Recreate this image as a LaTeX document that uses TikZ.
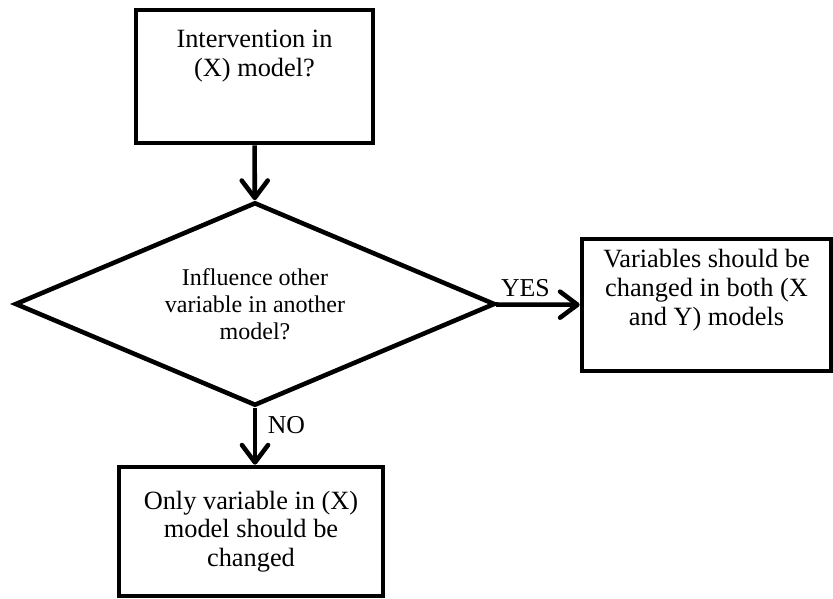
\documentclass[tikz,border=0pt]{standalone}
\usepackage{fontspec}
\setmainfont{Liberation Serif}
\usetikzlibrary{arrows.meta, shapes.geometric}

\begin{document}
\begin{tikzpicture}[x=0.03cm, y=-0.03cm,
    >={Straight Barb[round, length=0.52cm, width=0.78cm]},
    box/.style={draw, line width=3.9pt, align=center, inner sep=0pt,
        font=\fontsize{22.5}{24.5}\selectfont},
    decision/.style={draw, diamond, aspect=2.4, line width=3.9pt, align=center, inner sep=0pt,
        font=\fontsize{20.5}{23}\selectfont},
    flow/.style={->, line width=3.9pt},
    lbl/.style={font=\fontsize{22}{24}\selectfont, inner sep=2pt}]
    \useasboundingbox (0,0) rectangle (833,599);

    % 1. Khoi cau hoi ban dau
    \node[box, minimum width=7.11cm, minimum height=3.99cm] (intervention) at (254.5,76.5)
        {Intervention in\\(X) model?\\[8pt]\strut};

    % 2. Khoi quyet dinh
    \node[decision, minimum width=14.4cm, minimum height=6.1cm] (influence) at (255,304)
        {Influence other\\variable in another\\model?};

    % 3. Hai khoi ket qua
    \node[box, minimum width=7.47cm, minimum height=3.96cm] (both) at (706.5,305)
        {Variables should be\\changed in both (X\\and Y) models\\[-2pt]\strut};
    \node[box, minimum width=7.92cm, minimum height=3.87cm] (only) at (251,531.5)
        {Only variable in (X)\\model should be\\changed};

    % 4. Mui ten noi cac khoi
    \draw[flow] (intervention) -- (influence);
    \draw[flow] (influence) -- node[lbl, above=3pt, pos=0.35] {YES} (both);
    \draw[flow] (influence.south) -- node[lbl, right=7pt, pos=0.3] {NO} (influence.south |- only.north);
\end{tikzpicture}
\end{document}
